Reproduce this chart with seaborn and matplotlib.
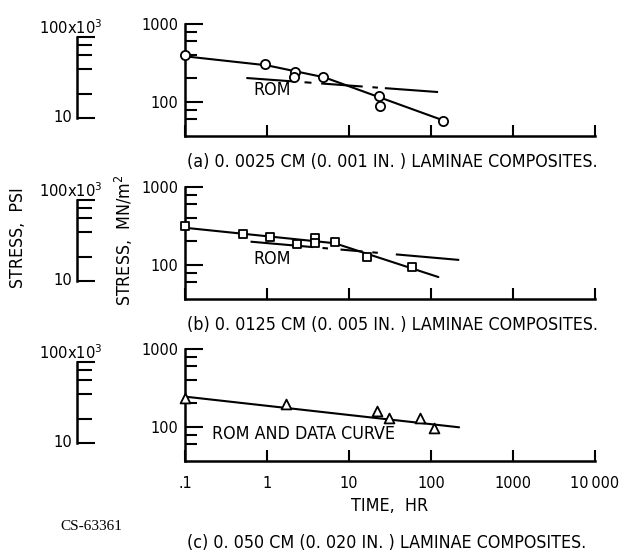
import matplotlib
matplotlib.use("Agg")
import matplotlib.pyplot as plt
import seaborn as sns
from matplotlib import font_manager
from matplotlib.ticker import FixedLocator, NullFormatter, NullLocator

# ---------------- data ----------------
time_ticks = [0.1, 1, 10, 100, 1000, 10000]
time_tick_labels = [".1", "1", "10", "100", "1000", "10\u2009000"]
stress_major = [100, 1000]
stress_major_labels = ["100", "1000"]
stress_minor = [60, 80, 200, 400, 600, 800]
psi_major = [10, 100]          # in ksi
psi_minor = [20, 40, 60, 80]

a_time = [0.1, 0.95, 2.2, 2.15, 4.8, 23, 24, 141]
a_stress = [400, 303, 243, 206, 210, 118, 88, 57]
a_curve_time = [0.1, 1.0, 5.0, 148]
a_curve_stress = [385, 295, 207, 57]
a_rom_time = [0.56, 122]
a_rom_stress = [203, 134]

b_time = [0.1, 0.51, 1.1, 2.3, 3.9, 3.8, 6.8, 16.5, 58]
b_stress = [316, 250, 231, 185, 224, 192, 196, 125, 95]
b_curve_time = [0.1, 6.7, 123]
b_curve_stress = [300, 190, 70]
b_rom_time = [0.63, 221]
b_rom_stress = [199, 116]

c_time = [0.1, 1.7, 21.7, 31, 73.5, 109]
c_stress = [236, 197, 162, 129, 129, 96]
c_curve_time = [0.1, 220]
c_curve_stress = [245, 99]

captions = ["(a) 0. 0025 CM (0. 001 IN. ) LAMINAE COMPOSITES.",
            "(b) 0. 0125 CM (0. 005 IN. ) LAMINAE COMPOSITES.",
            "(c) 0. 050 CM (0. 020 IN. ) LAMINAE COMPOSITES."]

# ---------------- style ----------------
sns.set_theme(style="white")
names = {f.name for f in font_manager.fontManager.ttflist}
condensed = any(f.name == "DejaVu Sans" and f.stretch == "condensed"
                for f in font_manager.fontManager.ttflist)
if "Liberation Sans Narrow" in names:
    SANS = "Liberation Sans Narrow"
    FS = 14.5
    STRETCH = "normal"
elif condensed:
    SANS = "DejaVu Sans"
    FS = 12.8
    STRETCH = "condensed"
else:
    SANS = "DejaVu Sans"
    FS = 11.5
    STRETCH = "normal"
plt.rcParams["font.family"] = [SANS, "DejaVu Sans"]
plt.rcParams["font.stretch"] = STRETCH
plt.rcParams["mathtext.fontset"] = "custom"
plt.rcParams["mathtext.rm"] = SANS
plt.rcParams["mathtext.it"] = SANS
plt.rcParams["mathtext.bf"] = SANS
plt.rcParams["lines.scale_dashes"] = False
plt.rcParams["axes.unicode_minus"] = False
for k in ["text.color", "axes.labelcolor", "xtick.color", "ytick.color",
          "axes.edgecolor"]:
    plt.rcParams[k] = "black"

W, H = 621, 556
fig = plt.figure(figsize=(W / 100, H / 100), dpi=100)
fig.patch.set_facecolor("white")


def rect(left, top, right, bottom):
    return [left / W, 1 - bottom / H, (right - left) / W, (bottom - top) / H]


tops = [24, 187, 349]
bottoms = [136, 299, 461]
cap_y = [162, 325, 543]

panel_data = [
    (a_time, a_stress, a_curve_time, a_curve_stress, "o", 44),
    (b_time, b_stress, b_curve_time, b_curve_stress, "s", 40),
    (c_time, c_stress, c_curve_time, c_curve_stress, "^", 50),
]
rom_data = [(a_rom_time, a_rom_stress, (0, (36, 6, 5, 7, 30, 7, 4, 5, 40, 200))),
            (b_rom_time, b_rom_stress, (0, (45, 7, 4, 9, 16, 7, 4, 13, 46, 200))),
            None]

LW_AX = 1.8
for i in range(3):
    ax = fig.add_axes(rect(185, tops[i], 595, bottoms[i]))
    ax.set_xscale("log")
    ax.set_yscale("log")
    t, s, ct, cs, mk, ms = panel_data[i]
    sns.lineplot(x=ct, y=cs, ax=ax, color="black", lw=1.5, sort=False,
                 estimator=None, clip_on=False, zorder=2)
    if rom_data[i] is not None:
        rt, rs, ls = rom_data[i]
        sns.lineplot(x=rt, y=rs, ax=ax, color="black", lw=1.5,
                     linestyle=ls, estimator=None, zorder=2)
    sns.scatterplot(x=t, y=s, ax=ax, marker=mk, s=ms, facecolor="white",
                    edgecolor="black", linewidth=1.3, zorder=3, clip_on=False)
    ax.set_xlim(0.1, 10000)
    ax.set_ylim(36.6, 1000)
    ax.patch.set_visible(False)
    for sp in ["top", "right"]:
        ax.spines[sp].set_visible(False)
    for sp in ["left", "bottom"]:
        ax.spines[sp].set_linewidth(LW_AX)
        ax.spines[sp].set_color("black")
    ax.xaxis.set_major_locator(FixedLocator(time_ticks))
    ax.xaxis.set_minor_locator(NullLocator())
    ax.yaxis.set_major_locator(FixedLocator(stress_major))
    ax.yaxis.set_minor_locator(FixedLocator(stress_minor))
    ax.yaxis.set_minor_formatter(NullFormatter())
    ax.set_yticklabels(stress_major_labels)
    ax.tick_params(axis="x", which="major", direction="in", length=8,
                   width=1.5, color="black", pad=11, labelsize=FS - 1.2,
                   bottom=True, labelbottom=(i == 2))
    ax.tick_params(axis="y", which="major", direction="in", length=13,
                   width=1.5, color="black", pad=5, labelsize=FS - 1.2,
                   left=True)
    ax.tick_params(axis="y", which="minor", direction="in", length=8.5,
                   width=1.5, color="black", left=True)
    if i == 2:
        ax.set_xticklabels(time_tick_labels)
        ax.set_xlabel("TIME,  HR", fontsize=FS, labelpad=4)
    else:
        ax.set_xlabel("")
    ax.set_ylabel("")

    # annotations inside the panels
    if i == 0:
        ax.text(1.15, 143, "ROM", ha="center", va="center", fontsize=FS)
    elif i == 1:
        ax.text(1.15, 121, "ROM", ha="center", va="center", fontsize=FS)
    else:
        ax.text(0.216, 81, "ROM AND DATA CURVE", ha="left", va="center",
                fontsize=FS)

    # secondary PSI scale
    axp = fig.add_axes(rect(76.5, tops[i], 110, bottoms[i]))
    axp.set_yscale("log")
    axp.set_ylim(6.0, 144)
    axp.set_xlim(0, 1)
    axp.patch.set_visible(False)
    for sp in ["top", "right", "bottom"]:
        axp.spines[sp].set_visible(False)
    axp.spines["left"].set_linewidth(LW_AX)
    axp.spines["left"].set_bounds(10, 100)
    axp.set_xticks([])
    axp.yaxis.set_major_locator(FixedLocator(psi_major))
    axp.yaxis.set_minor_locator(FixedLocator(psi_minor))
    axp.yaxis.set_major_formatter(NullFormatter())
    axp.yaxis.set_minor_formatter(NullFormatter())
    axp.tick_params(axis="y", which="major", direction="in", length=13,
                    width=1.5, color="black", left=True)
    axp.tick_params(axis="y", which="minor", direction="in", length=11,
                    width=1.5, color="black", left=True)
    axp.annotate("100x10$^3$", xy=(0, 100), xycoords=("axes fraction", "data"),
                 xytext=(-4, 2), textcoords="offset points", ha="center",
                 va="baseline", fontsize=FS - 1)
    axp.annotate("10", xy=(0, 10), xycoords=("axes fraction", "data"),
                 xytext=(-3, 0), textcoords="offset points", ha="right",
                 va="center", fontsize=FS - 1)

    fig.text(187 / W, 1 - cap_y[i] / H, captions[i], ha="left", va="center",
             fontsize=FS)

fig.text(18 / W, 1 - 238 / H, "STRESS,  PSI", rotation=90, ha="center",
         va="center", fontsize=FS)
fig.text(124 / W, 1 - 240 / H, "STRESS,  MN/m$^2$", rotation=90, ha="center",
         va="center", fontsize=FS)
fig.text(60 / W, 1 - 526 / H, "CS-63361", ha="left", va="center",
         fontsize=11, family=["Liberation Serif", "DejaVu Serif"],
         stretch="normal")

fig.savefig("out.png", dpi=100, facecolor="white")
